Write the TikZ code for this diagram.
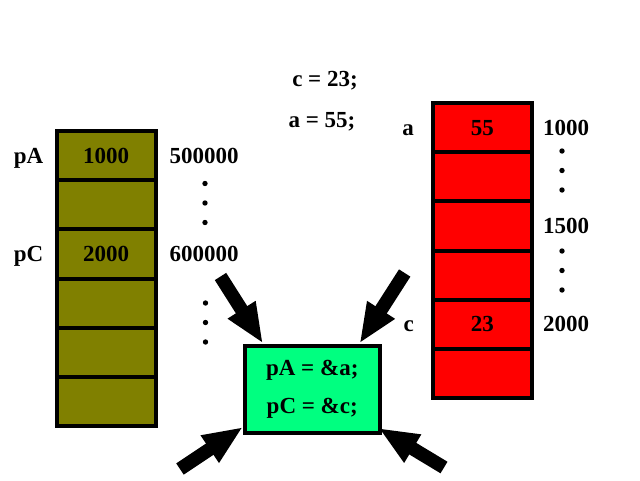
\documentclass[tikz,border=0pt]{standalone}
\usepackage{fontspec}
\setmainfont{Liberation Serif}
\usepackage{tikz}
\usetikzlibrary{arrows.meta, positioning}
\definecolor{memolive}{HTML}{808000}
\definecolor{memred}{HTML}{FF0000}
\definecolor{progreen}{HTML}{00FF80}

\begin{document}
\begin{tikzpicture}[
    x=1pt, y=-1pt,
    cell/.style={rectangle, draw=black, line width=4pt, outer sep=0pt,
                 inner sep=0pt, minimum width=99pt, minimum height=49.2pt,
                 font=\bfseries\fontsize{23}{28}\selectfont},
    olivecell/.style={cell, fill=memolive},
    redcell/.style={cell, fill=memred, minimum width=98.5pt},
    prog/.style={rectangle, draw=black, line width=4pt, fill=progreen,
                 minimum width=134.5pt, minimum height=87.5pt, align=center,
                 font=\bfseries\fontsize{23}{38}\selectfont},
    lbl/.style={inner sep=0pt, font=\bfseries\fontsize{23}{28}\selectfont},
    bigarrow/.style={-{Triangle[length=40pt, width=30pt]}, line width=13.5pt, color=black}
  ]
    \useasboundingbox (0,0) rectangle (640,480);

    % memory of the pointers
    \node[olivecell] (l1) at (106,155.6) {1000};
    \node[olivecell, below=0pt of l1] (l2) {};
    \node[olivecell, below=0pt of l2] (l3) {2000};
    \node[olivecell, below=0pt of l3] (l4) {};
    \node[olivecell, below=0pt of l4] (l5) {};
    \node[olivecell, below=0pt of l5] (l6) {};

    % memory of the variables
    \node[redcell] (r1) at (482.25,127.6) {55};
    \node[redcell, below=0pt of r1] (r2) {};
    \node[redcell, below=0pt of r2] (r3) {};
    \node[redcell, below=0pt of r3] (r4) {};
    \node[redcell, below=0pt of r4] (r5) {23};
    \node[redcell, below=0pt of r5] (r6) {};

    % names and addresses
    \node[lbl, base left=13pt of l1]    (pa)    {pA};
    \node[lbl, base right=14pt of l1]   (adl1)  {500000};
    \node[lbl, base left=13pt of l3]    (pc)    {pC};
    \node[lbl, base right=14pt of l3]   (adl3)  {600000};
    \node[lbl, base left=19pt of r1]    (va)    {a};
    \node[lbl, base right=11.5pt of r1] (adr1)  {1000};
    \node[lbl, right=11.5pt of r3]      (adr3)  {1500};
    \node[lbl, base left=19pt of r5]    (vc)    {c};
    \node[lbl, base right=11.5pt of r5] (adr5)  {2000};

    \foreach \dx/\dy in {205/203, 205.5/322.5, 562/170.5, 562/270.5}
      \foreach \d in {-19.5, 0, 19.5}
        \fill (\dx,\dy+\d) circle[radius=2.7pt];

    % assignments
    \node[lbl, anchor=base] (setc) at (325,86)  {c = 23;};
    \node[lbl, anchor=base] (seta) at (322,127) {a = 55;};

    \node[prog] (code) at (312.25,389.25) {pA = \&a;\\pC = \&c;};

    \coordinate (tl) at (220.5,276.5);
    \coordinate (tr) at (404.7,273);
    \coordinate (bl) at (180,469);
    \coordinate (br) at (444,467.5);

    \draw[bigarrow] (tl) -- ([xshift=20pt]code.north west);
    \draw[bigarrow] (tr) -- ([xshift=-22pt]code.north east);
    \draw[bigarrow] (bl) -- ([yshift=8pt]code.south west);
    \draw[bigarrow] (br) -- ([xshift=-3pt, yshift=7pt]code.south east);
\end{tikzpicture}
\end{document}
